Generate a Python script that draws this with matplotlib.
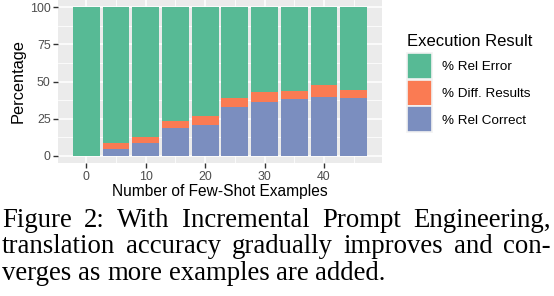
import matplotlib.pyplot as plt
from matplotlib.patches import Patch

shots = [0, 5, 10, 15, 20, 25, 30, 35, 40, 45]
rel_correct = [0.0, 4.5, 8.6, 18.9, 20.7, 32.8, 36.4, 38.2, 39.6, 39.1]
diff_results = [0.0, 4.1, 3.8, 4.5, 6.3, 6.3, 6.7, 5.4, 8.0, 5.4]
rel_error = [100 - c - d for c, d in zip(rel_correct, diff_results)]

labels = ['% Rel Error', '% Diff. Results', '% Rel Correct']
colors = ['#57BA95', '#FA7B53', '#7B8EBF']

caption_lines = ['Figure 2: With Incremental Prompt Engineering,',
                 'translation accuracy gradually improves and con-',
                 'verges as more examples are added.']

plt.rcParams['font.family'] = ['Liberation Sans', 'DejaVu Sans']

fig = plt.figure(figsize=(5.54, 2.96), dpi=100)
ax = fig.add_axes([58.3 / 554, 1 - 163 / 296, (381.7 - 58.3) / 554, 163 / 296])
ax.set_facecolor('#EBEBEB')

# stacked bars, bottom to top: correct, diff, error
ax.bar(shots, rel_correct, width=4.5, color=colors[2], linewidth=0, zorder=3)
ax.bar(shots, diff_results, width=4.5, bottom=rel_correct, color=colors[1], linewidth=0, zorder=3)
bot = [c + d for c, d in zip(rel_correct, diff_results)]
ax.bar(shots, rel_error, width=4.5, bottom=bot, color=colors[0], linewidth=0, zorder=3)

ax.set_xlim(-4.725, 49.725)
ax.set_ylim(-5, 105)
ax.set_xticks([0, 10, 20, 30, 40])
ax.set_yticks([0, 25, 50, 75, 100])
ax.set_xticks([5, 15, 25, 35, 45], minor=True)
ax.set_yticks([12.5, 37.5, 62.5, 87.5], minor=True)
ax.grid(which='major', color='white', linewidth=1.1, zorder=0)
ax.grid(which='minor', color='white', linewidth=0.55, zorder=0)
ax.set_axisbelow(True)
for s in ax.spines.values():
    s.set_visible(False)
ax.tick_params(which='major', length=3.5, width=1.0, color='#333333',
               labelcolor='#4D4D4D', labelsize=8.9, pad=2)
ax.tick_params(which='minor', length=0)

ax.set_xlabel('Number of Few-Shot Examples', fontsize=11.2, labelpad=1)
ax.set_ylabel('Percentage', fontsize=11.8, labelpad=3)

# keys ~26px square with a pale rim, like ggplot's legend keys
handles = [Patch(facecolor=c, edgecolor='#F2F2F2', linewidth=1.2) for c in colors]
leg = fig.legend(handles, labels, title='Execution Result', loc='upper left',
                 bbox_to_anchor=(404 / 554, 1 - 31 / 296), frameon=False,
                 fontsize=9.7, title_fontsize=12, handlelength=1.88, handleheight=2.59,
                 labelspacing=0.06, handletextpad=0.72, borderaxespad=0, borderpad=0.2)
leg._legend_box.align = 'left'
leg._legend_box.sep = 3

# caption, justified like the paper (last line left as is)
renderer = fig.canvas.get_renderer()
left, right = 2, 551
fs = 19.3
for i, line in enumerate(caption_lines):
    y = 1 - (227 + 26.4 * i) / 296
    words = line.split(' ')
    texts = [fig.text(0, y, w, family='Liberation Serif', fontsize=fs,
                      va='baseline', ha='left') for w in words]
    widths = [t.get_window_extent(renderer).width for t in texts]
    if i < len(caption_lines) - 1:
        gap = (right - left - sum(widths)) / (len(words) - 1)
    else:
        gap = 0.25 * fs * 100 / 72
    x = left
    for t, w in zip(texts, widths):
        t.set_x(x / 554)
        x += w + gap

fig.savefig('out.png', dpi=100)
